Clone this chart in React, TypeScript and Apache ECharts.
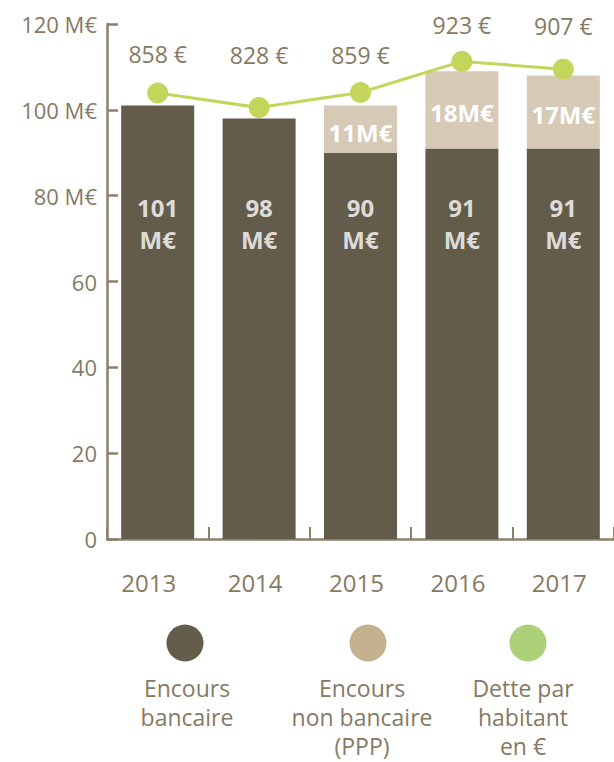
import React, { useEffect, useRef } from "react";
import * as echarts from "echarts";

const years = ["2013", "2014", "2015", "2016", "2017"];
const encoursBancaire = [101, 98, 90, 91, 91];
const encoursNonBancaire: (number | null)[] = [null, null, 11, 18, 17];
const detteParHabitant = [858, 828, 859, 923, 907];
const detteLabelDistance = [17, 31, 16, 14, 21];
const yearLabelShift = [18, 8, 8, 8, 8];
const seriesNames = ["Encours bancaire", "Encours non bancaire (PPP)", "Dette par habitant en €"];
const legendLines = [["Encours", "bancaire"], ["Encours", "non bancaire", "(PPP)"], ["Dette par", "habitant", "en €"]];
const legendColors = ["#655d4c", "#c3b08f", "#add07a"];
const legendX = [187, 362, 523];
const circleX = [185, 368, 528];

const DARK = "#645c4b";
const LIGHT = "#d6c9b5";
const GREEN = "#c3d65b";
const TEXT = "#857a62";
const AXIS = "#8c8069";
const FONT = "'Open Sans', 'Noto Sans', sans-serif";

export default function App() {
  const ref = useRef<HTMLDivElement>(null);
  useEffect(() => {
    if (!ref.current) return;
    const chart = echarts.init(ref.current, undefined, { renderer: "svg" });
    const graphic: any[] = [];
    legendLines.forEach((lines, i) => {
      graphic.push({
        type: "circle",
        shape: { cx: circleX[i], cy: 643, r: 18.5 },
        style: { fill: legendColors[i] },
      });
      graphic.push({
        type: "text",
        x: legendX[i],
        y: 673,
        style: {
          text: lines.join("\n"),
          fill: TEXT,
          font: `23px ${FONT}`,
          textAlign: "center",
          textVerticalAlign: "top",
          lineHeight: 29,
        },
      });
    });
    chart.setOption({
      animation: false,
      textStyle: { fontFamily: FONT },
      grid: { left: 107, top: 24, bottom: 223, right: -6, containLabel: false },
      xAxis: {
        type: "category",
        data: years.map((y, i) => ({ value: y, textStyle: { padding: [0, yearLabelShift[i], 0, 0] } })),
        axisLine: { show: true, lineStyle: { color: AXIS, width: 2.5 } },
        axisTick: { show: true, inside: true, length: 12, lineStyle: { color: AXIS, width: 2 } },
        axisLabel: { color: TEXT, fontSize: 24, margin: 31, fontFamily: FONT },
      },
      yAxis: [
        {
          type: "value",
          min: 0,
          max: 120,
          interval: 20,
          axisLine: { show: true, lineStyle: { color: AXIS, width: 2.5 } },
          axisTick: { show: true, inside: true, length: 11, lineStyle: { color: AXIS, width: 2.5 } },
          splitLine: { show: false },
          axisLabel: {
            color: TEXT,
            fontSize: 22,
            margin: 10,
            fontFamily: FONT,
            formatter: (v: number) => (v >= 80 ? `${v} M€` : `${v}`),
          },
        },
        { type: "value", min: -60, max: 1000, show: false, splitLine: { show: false } },
      ],
      series: [
        {
          name: seriesNames[0],
          type: "bar",
          stack: "total",
          data: encoursBancaire,
          barWidth: 73,
          itemStyle: { color: DARK },
        },
        {
          name: seriesNames[1],
          type: "bar",
          stack: "total",
          data: encoursNonBancaire.map((v) => (v == null ? "-" : v)),
          barWidth: 73,
          itemStyle: { color: LIGHT },
          label: {
            show: true,
            position: "inside",
            offset: [0, 3],
            color: "#ffffff",
            fontWeight: "bold",
            fontSize: 24,
            fontFamily: FONT,
            formatter: (p: any) => `${p.value}M€`,
          },
        },
        {
          name: "labels",
          type: "scatter",
          data: encoursBancaire.map(() => 73.6),
          symbolSize: 1,
          itemStyle: { color: "transparent" },
          silent: true,
          z: 5,
          label: {
            show: true,
            position: "inside",
            color: "#ffffff",
            fontWeight: "bold",
            fontSize: 24,
            lineHeight: 32,
            fontFamily: FONT,
            formatter: (p: any) => `${encoursBancaire[p.dataIndex]}\nM€`,
          },
        },
        {
          name: seriesNames[2],
          type: "line",
          yAxisIndex: 1,
          z: 10,
          data: detteParHabitant.map((v, i) => ({ value: v, label: { distance: detteLabelDistance[i] } })),
          symbol: "circle",
          symbolSize: 21,
          lineStyle: { color: GREEN, width: 3 },
          itemStyle: { color: GREEN },
          label: {
            show: true,
            position: "top",
            color: TEXT,
            fontSize: 23,
            fontFamily: FONT,
            formatter: (p: any) => `${p.value} €`,
          },
        },
      ],
      graphic,
    });
    return () => chart.dispose();
  }, []);
  return <div ref={ref} style={{ position: "absolute", left: 0, top: 0, width: 614, height: 762 }} />;
}
